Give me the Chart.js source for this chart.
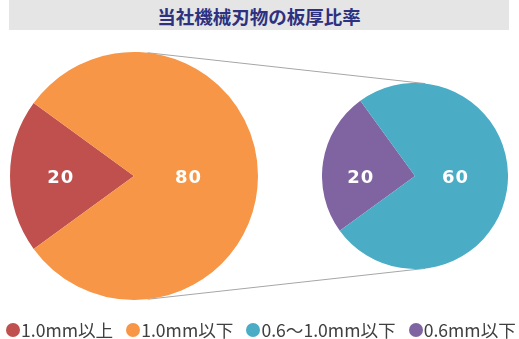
<!DOCTYPE html>
<html>
<head>
<meta charset="utf-8">
<script src="https://cdn.jsdelivr.net/npm/chart.js@4/dist/chart.umd.min.js"></script>
<style>
  body { margin: 0; background: #fff; }
  #wrap { position: relative; width: 519px; height: 339px; font-family: "Noto Sans CJK JP", "Noto Sans", sans-serif; }
  #title { position: absolute; left: 9px; top: 0; width: 500px; height: 30px; background: #e5e5e5;
           color: #2e3180; font-weight: bold; font-size: 18.5px; line-height: 32px; text-align: center; }
  canvas { position: absolute; }
  #legend { position: absolute; left: 6px; top: 319px; display: flex; color: #404040; font-size: 17.6px; line-height: 22px; }
  #legend .item { display: flex; align-items: center; margin-right: 13px; white-space: nowrap; }
  #legend .dot { width: 14px; height: 14px; border-radius: 50%; margin-right: 1px; }
</style>
</head>
<body>
<div id="wrap">
  <div id="title">当社機械刃物の板厚比率</div>
  <canvas id="lines" width="519" height="339" style="left:0;top:0"></canvas>
  <canvas id="mainPie" width="248" height="248" style="left:10px;top:52px"></canvas>
  <canvas id="subPie" width="186" height="186" style="left:322px;top:83px"></canvas>
  <div id="legend"></div>
</div>
<script>
// Data:
var mainLabels = ['1.0mm以上', '1.0mm以下'];
var mainValues = [20, 80];
var mainColors = ['#c0504d', '#f79646'];

var subLabels = ['0.6mm以下', '0.6～1.0mm以下'];
var subValues = [20, 60];
var subColors = ['#8064a2', '#4bacc6'];

// legend order as in the original
var legendOrder = [[mainLabels[0], mainColors[0]], [mainLabels[1], mainColors[1]],
                   [subLabels[1], subColors[1]], [subLabels[0], subColors[0]]];

/**
 * Writes the value of each slice in white, on the pie's horizontal axis.
 */
var sliceLabels = {
    id: 'sliceLabels',
    afterDatasetsDraw: function (chart) {
        var ctx = chart.ctx;
        var meta = chart.getDatasetMeta(0);
        var values = chart.data.datasets[0].data;
        ctx.save();
        ctx.fillStyle = '#fff';
        ctx.font = 'bold 18px "DejaVu Sans", sans-serif';
        ctx.letterSpacing = '1px';
        ctx.textAlign = 'center';
        ctx.textBaseline = 'middle';
        for (var i = 0; i < meta.data.length; i++) {
            var arc = meta.data[i];
            var mid = (arc.startAngle + arc.endAngle) / 2;
            var share = arc.circumference / (2 * Math.PI);
            var k = share < 0.5 ? 0.59 : 0.44;
            ctx.fillText(values[i], arc.x + Math.cos(mid) * arc.outerRadius * k, arc.y + 2);
        }
        ctx.restore();
    }
};

function makePie(id, labels, values, colors) {
    return new Chart(document.getElementById(id), {
        type: 'pie',
        data: { labels: labels, datasets: [{ data: values, backgroundColor: colors, borderWidth: 0 }] },
        options: {
            responsive: false,
            animation: false,
            rotation: 234,
            layout: { padding: 0 },
            plugins: { legend: { display: false }, tooltip: { enabled: false } }
        },
        plugins: [sliceLabels]
    });
}

var mainChart = makePie('mainPie', mainLabels, mainValues, mainColors);
var subChart = makePie('subPie', subLabels, subValues, subColors);

/**
 * Draws the two outer tangent lines joining the pies.
 */
function drawConnectors() {
    var a = mainChart.getDatasetMeta(0).data[0];
    var b = subChart.getDatasetMeta(0).data[0];
    var c1 = { x: a.x + 10, y: a.y + 52, r: a.outerRadius };
    var c2 = { x: b.x + 322, y: b.y + 83, r: b.outerRadius };
    var dx = c2.x - c1.x, dy = c2.y - c1.y;
    var d = Math.hypot(dx, dy);
    var ux = dx / d, uy = dy / d;
    var ca = (c1.r - c2.r) / d;
    var sa = Math.sqrt(1 - ca * ca);
    var ctx = document.getElementById('lines').getContext('2d');
    ctx.strokeStyle = '#a6a6a6';
    ctx.lineWidth = 1;
    [-1, 1].forEach(function (s) {
        var nx = ca * ux - s * sa * uy;
        var ny = ca * uy + s * sa * ux;
        ctx.beginPath();
        ctx.moveTo(c1.x + c1.r * nx, c1.y + c1.r * ny);
        ctx.lineTo(c2.x + c2.r * nx, c2.y + c2.r * ny);
        ctx.stroke();
    });
}
drawConnectors();

// Legend
var legend = document.getElementById('legend');
legendOrder.forEach(function (item) {
    var el = document.createElement('span');
    el.className = 'item';
    el.innerHTML = '<span class="dot" style="background:' + item[1] + '"></span>' + item[0];
    legend.appendChild(el);
});
</script>
</body>
</html>
